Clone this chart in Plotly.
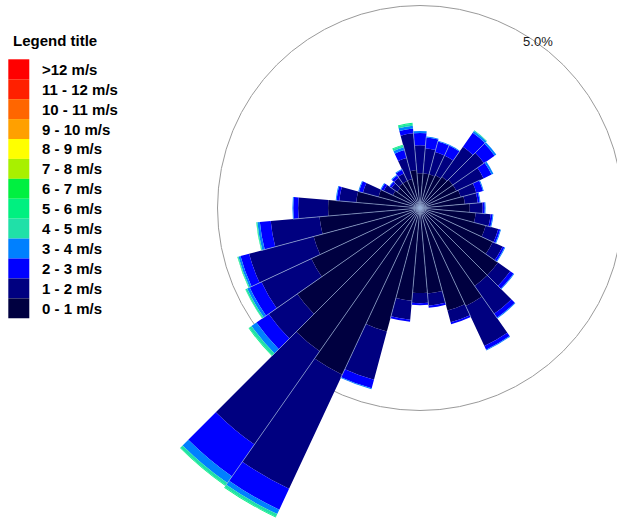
import plotly.graph_objects as go

# ---------------- data ----------------
directions = list(range(0, 360, 10))  # sector centres, degrees clockwise from north

speed_bins = ["0 - 1 m/s", "1 - 2 m/s", "2 - 3 m/s", "3 - 4 m/s", "4 - 5 m/s",
              "5 - 6 m/s", "6 - 7 m/s", "7 - 8 m/s", "8 - 9 m/s", "9 - 10 m/s",
              "10 - 11 m/s", "11 - 12 m/s", ">12 m/s"]

bin_colors = ["#000040", "#000080", "#0000FF", "#0080FF", "#20E0A8",
              "#00F080", "#00F040", "#A8F000", "#FFFF00", "#FFA000",
              "#FF6600", "#FF2000", "#FF0000"]

# frequency (%) per direction for each speed bin
freq_0_1 = [0.86, 0.86, 0.86, 0.89, 0.94, 0.99, 0.99, 1.04, 1.11, 1.23, 1.38, 1.68,
            1.98, 2.35, 2.35, 2.67, 2.62, 2.12, 2.10, 2.30, 3.16, 4.54, 4.32, 3.70,
            2.96, 2.72, 2.49, 2.27, 1.58, 1.06, 0.74, 0.69, 0.74, 0.74, 0.74, 0.94]
freq_1_2 = [0.69, 0.62, 0.57, 0.54, 0.91, 0.94, 0.74, 0.40, 0.32, 0.32, 0.37, 0.32,
            0.27, 0.37, 0.84, 1.09, 0.30, 0.30, 0.25, 0.47, 1.23, 3.11, 2.81, 0.86,
            1.36, 1.65, 1.21, 0.74, 0.42, 0.40, 0.25, 0.17, 0.17, 0.20, 0.54, 0.91]
freq_2_3 = [0.30, 0.27, 0.27, 0.27, 0.42, 0.32, 0.22, 0.17, 0.05, 0.05, 0.05, 0.05,
            0.05, 0.10, 0.12, 0.10, 0.05, 0.05, 0.05, 0.05, 0.22, 0.57, 0.96, 0.37,
            0.32, 0.22, 0.27, 0.12, 0.07, 0.10, 0.07, 0.06, 0.07, 0.10, 0.20, 0.12]
freq_3_4 = [0.05, 0.02, 0.02, 0.02, 0.05, 0.05, 0.05, 0.02, 0.02, 0.02, 0.02, 0.02,
            0.02, 0.02, 0.02, 0.02, 0.00, 0.00, 0.00, 0.00, 0.02, 0.12, 0.20, 0.15,
            0.07, 0.05, 0.06, 0.02, 0.02, 0.02, 0.02, 0.01, 0.02, 0.02, 0.07, 0.07]
freq_4_5 = [0.00, 0.00, 0.00, 0.00, 0.02, 0.00, 0.00, 0.00, 0.00, 0.00, 0.00, 0.00,
            0.00, 0.00, 0.00, 0.00, 0.00, 0.00, 0.00, 0.00, 0.00, 0.07, 0.07, 0.07,
            0.04, 0.02, 0.02, 0.00, 0.00, 0.00, 0.00, 0.00, 0.00, 0.00, 0.05, 0.05]
freq_5_6 = [0.00, 0.00, 0.00, 0.00, 0.00, 0.00, 0.00, 0.00, 0.00, 0.00, 0.00, 0.00,
            0.00, 0.00, 0.00, 0.00, 0.00, 0.00, 0.00, 0.00, 0.00, 0.02, 0.02, 0.02,
            0.01, 0.01, 0.01, 0.00, 0.00, 0.00, 0.00, 0.00, 0.00, 0.00, 0.02, 0.02]
zeros = [0.0] * 36
freq_6_7 = zeros
freq_7_8 = zeros
freq_8_9 = zeros
freq_9_10 = zeros
freq_10_11 = zeros
freq_11_12 = zeros
freq_gt_12 = zeros

ring_value = 5.0          # labelled reference ring (%)
ring_label = "5.0%"
legend_title = "Legend title"

series = [freq_0_1, freq_1_2, freq_2_3, freq_3_4, freq_4_5, freq_5_6, freq_6_7,
          freq_7_8, freq_8_9, freq_9_10, freq_10_11, freq_11_12, freq_gt_12]

# ---------------- layout geometry ----------------
VW, VH = 617, 523              # visible window
cx, cy = 420.0, 208.0          # rose centre in the window (px)
px_per_pct = 40.5              # pixels per 1 %
r_axis_max = 8.6               # polar frame (hidden) radius in %
R_frame = r_axis_max * px_per_pct

# the figure is larger than the window so the whole rose fits in the polar frame;
# it is shifted up by OY so the visible part matches the window
OX = 0
OY = int(R_frame - cy) + 2
FW = int(cx + R_frame) + 4
FH = int(cy + OY + R_frame) + 4


def fx(x):
    return (x + OX) / FW


def fy(y):
    return 1 - (y + OY) / FH


dom_x = [fx(cx - R_frame), fx(cx + R_frame)]
dom_y = [fy(cy + R_frame), fy(cy - R_frame)]

FONT = "Liberation Sans, Arial, sans-serif"

fig = go.Figure()

for name, col, vals in zip(speed_bins, bin_colors, series):
    fig.add_trace(go.Barpolar(
        r=vals, theta=directions, width=[10] * len(directions),
        name=name, marker=dict(color=col, line=dict(width=0)),
        showlegend=False, hoverinfo="skip"))

# seams between neighbouring sectors
totals = [sum(s[i] for s in series) for i in range(len(directions))]
sep_r, sep_t = [], []
for i, d in enumerate(directions):
    j = (i + 1) % len(directions)
    sep_r += [0, min(totals[i], totals[j]), None]
    sep_t += [d + 5, d + 5, None]
fig.add_trace(go.Scatterpolar(
    r=sep_r, theta=sep_t, mode="lines",
    line=dict(color="rgba(150,175,215,0.75)", width=0.9),
    showlegend=False, hoverinfo="skip"))

# ring label
fig.add_trace(go.Scatterpolar(
    r=[ring_value * 1.003], theta=[35.5], mode="text", text=[ring_label],
    textfont=dict(family=FONT, size=13, color="#1a1a1a"),
    showlegend=False, hoverinfo="skip"))

# reference ring (drawn below the bars)
rr = ring_value * px_per_pct
shapes = [dict(type="circle", xref="paper", yref="paper", layer="below",
               x0=fx(cx - rr), x1=fx(cx + rr), y0=fy(cy + rr), y1=fy(cy - rr),
               line=dict(color="#9a9a9a", width=1))]

# legend (swatches + labels)
annotations = [dict(text=legend_title, x=fx(10.5), y=fy(41), xref="paper",
                    yref="paper", xanchor="left", yanchor="middle", showarrow=False,
                    font=dict(family=FONT, size=15, color="#000000", weight="bold"))]
sw_top, sw_h = 59.3, 19.92
legend_order = list(range(len(speed_bins)))[::-1]
for k, idx in enumerate(legend_order):
    y0 = sw_top + k * sw_h
    shapes.append(dict(type="rect", xref="paper", yref="paper", layer="above",
                       x0=fx(8.3), x1=fx(29.3), y0=fy(y0 + sw_h), y1=fy(y0),
                       fillcolor=bin_colors[idx], line=dict(width=0)))
    annotations.append(dict(text=speed_bins[idx], x=fx(39.8), y=fy(y0 + sw_h / 2),
                            xref="paper", yref="paper", xanchor="left", yanchor="middle",
                            showarrow=False,
                            font=dict(family=FONT, size=15, color="#000000", weight="bold")))

fig.update_layout(
    width=FW, height=FH, autosize=False,
    margin=dict(l=0, r=0, t=0, b=0),
    paper_bgcolor="white", plot_bgcolor="white",
    showlegend=False,
    shapes=shapes, annotations=annotations,
    polar=dict(
        domain=dict(x=dom_x, y=dom_y),
        bgcolor="rgba(0,0,0,0)",
        barmode="stack",
        radialaxis=dict(range=[0, r_axis_max], visible=False, showgrid=False),
        angularaxis=dict(direction="clockwise", rotation=90, visible=False,
                         showgrid=False, showline=False),
    ),
)

shift_js = (
    "document.documentElement.style.overflow='hidden';"
    "document.body.style.margin='0';"
    "document.body.style.overflow='hidden';"
    "var gd=document.getElementById('{plot_id}');"
    "gd.style.position='absolute';"
    "gd.style.left='" + str(-OX) + "px';"
    "gd.style.top='" + str(-OY) + "px';"
)

fig.write_html("out.html", config={"displayModeBar": False}, post_script=shift_js)
